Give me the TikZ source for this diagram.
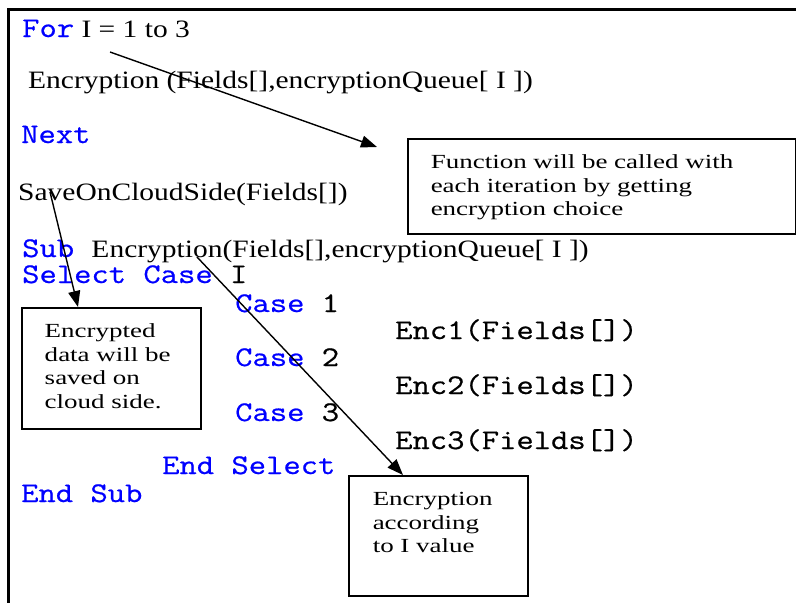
\documentclass[tikz,border=0pt]{standalone}
\usepackage{fontspec}
\setmainfont{Liberation Serif}
\setmonofont[FakeStretch=1.18,FakeBold=0.6]{Latin Modern Mono}
\newfontfamily\codefont[FakeStretch=1.18]{Liberation Serif}
\newfontfamily\notefont[FakeStretch=1.35]{Liberation Serif}
\usetikzlibrary{arrows.meta}
\definecolor{kwblue}{RGB}{0,0,255}
\newcommand{\kw}[1]{{\ttfamily\fontsize{28.5}{30}\selectfont\color{kwblue}#1}}
\newcommand{\code}[1]{{\ttfamily\fontsize{28.5}{30}\selectfont#1}}
\tikzstyle{every node}=[inner sep=0pt, anchor=base west, font=\codefont\fontsize{25}{28}\selectfont]
\tikzstyle{note}=[draw, line width=1.5pt, anchor=north west, align=left, inner xsep=23pt, inner ysep=8pt, text height=22pt, font=\notefont\fontsize{20}{23.5}\selectfont]
\tikzstyle{pointer}=[line width=1.4pt, -{Triangle[length=16pt,width=12pt]}]

\begin{document}
\begin{tikzpicture}[x=1pt, y=-1pt]
    \useasboundingbox (0,0) rectangle (796,603);
% Frame
    \draw[line width=3pt] (8,603) -- (8,9) -- (796,9);
% Code lines
    \node (forline) at (22,37) {\kw{For} I = 1 to 3};
    \node (callline) at (28,88) {Encryption (Fields[],encryptionQueue[ I ])};
    \node (nextline) at (21,143) {\kw{Next}};
    \node (saveline) at (18,200) {SaveOnCloudSide(Fields[])};
    \node (subline) at (22,257) {\kw{Sub\ }Encryption(Fields[],encryptionQueue[ I ])};
    \node (selectline) at (22,283) {\kw{Select Case\ }\code{I}};
    \node (caseone) at (235,312) {\kw{Case\ }\code{1}};
    \node (encone) at (395,339) {\code{Enc1(Fields[])}};
    \node (casetwo) at (235,366) {\kw{Case\ }\code{2}};
    \node (enctwo) at (395,394) {\code{Enc2(Fields[])}};
    \node (casethree) at (235,421) {\kw{Case\ }\code{3}};
    \node (encthree) at (395,449) {\code{Enc3(Fields[])}};
    \node (endselect) at (162,474) {\kw{End Select}};
    \node (endsub) at (21,502) {\kw{End Sub}};
% Notes
    \node[note, text width=342pt, text depth=57pt] (callnote) at (407,138)
        {Function will be called with\\each iteration by getting\\encryption choice};
    \node[note, text width=133pt, text depth=83pt] (cloudnote) at (21,307)
        {Encrypted\\data will be\\saved on\\cloud side.};
    \node[note, text width=131pt, inner xsep=24pt, text depth=82pt] (valuenote) at (348,475)
        {Encryption\\according\\to I value};
% Pointers
    \coordinate (loopstart) at (110,52);
    \coordinate (loophead) at (377,147);
    \coordinate (savestart) at (50,192);
    \coordinate (cloudhead) at (78,307);
    \coordinate (substart) at (197,257);
    \coordinate (valuehead) at (403,475);
    \draw[pointer] (loopstart) -- (loophead);
    \draw[pointer] (savestart) -- (cloudhead);
    \draw[pointer] (substart) -- (valuehead);
\end{tikzpicture}
\end{document}
